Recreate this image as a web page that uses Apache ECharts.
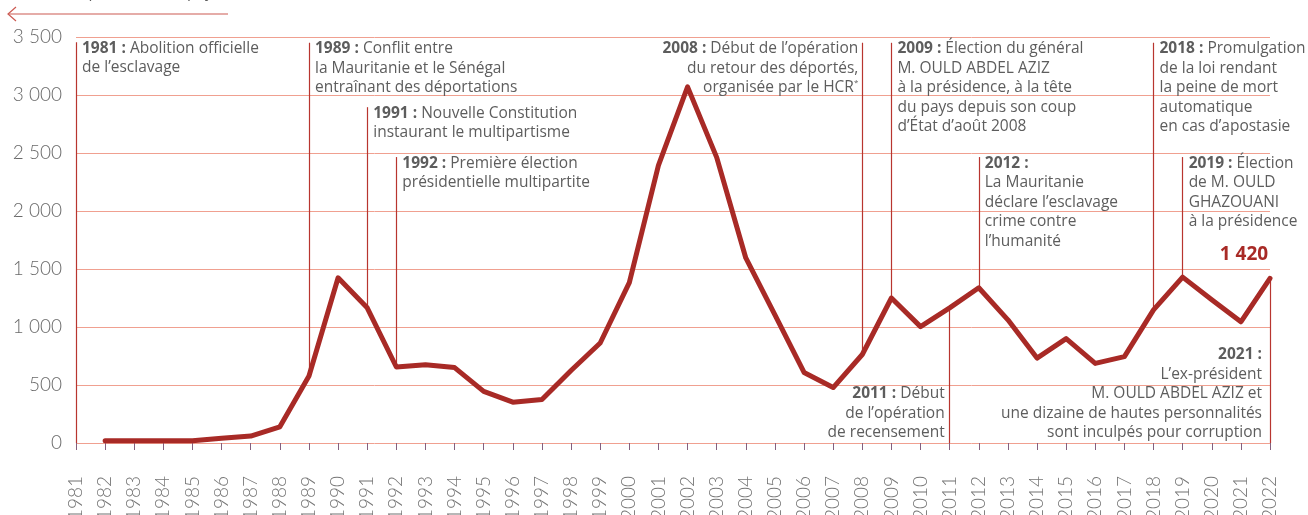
<!DOCTYPE html>
<html>
<head>
<meta charset="utf-8">
<script src="https://cdn.jsdelivr.net/npm/echarts@6/dist/echarts.min.js"></script>
<style>
    html, body { margin: 0; padding: 0; background: #fff; }
    #chart { width: 1308px; height: 515px; }
</style>
</head>
<body>
<div id="chart"></div>
<script>
    // années (axe des x)
    var years = ['1981','1982','1983','1984','1985','1986','1987','1988','1989','1990',
        '1991','1992','1993','1994','1995','1996','1997','1998','1999','2000',
        '2001','2002','2003','2004','2005','2006','2007','2008','2009','2010',
        '2011','2012','2013','2014','2015','2016','2017','2018','2019','2020',
        '2021','2022'];
    // valeurs (pas de donnée en 1981)
    var values = [null, 20, 20, 20, 20, 40, 60, 140, 578, 1424,
        1165, 655, 675, 650, 445, 352, 375, 625, 862, 1383,
        2393, 3070, 2462, 1595, 1105, 608, 478, 763, 1250, 1003,
        1165, 1338, 1062, 732, 900, 686, 745, 1148, 1430, 1235,
        1045, 1420];
    var yTicks = [0, 500, 1000, 1500, 2000, 2500, 3000, 3500];

    // repères chronologiques
    var eventYears = ['1981', '1989', '1991', '1992', '2008', '2009', '2012', '2018', '2019', '2011', '2022'];
    var eventTops  = [3455, 3450, 2895, 2465, 3450, 3450, 2465, 3450, 2465, null, null];
    var eventTexts = [
        '{b|1981 :} Abolition officielle\nde l\u2019esclavage',
        '{b|1989 :} Conflit entre\nla Mauritanie et le Sénégal\nentraînant des déportations',
        '{b|1991 :} Nouvelle Constitution\ninstaurant le multipartisme',
        '{b|1992 :} Première élection\nprésidentielle multipartite',
        '{b|2008 :} Début de l\u2019opération\ndu retour des déportés,\norganisée par le HCR{s|*}',
        '{b|2009 :} Élection du général\nM. OULD ABDEL AZIZ\nà la présidence, à la tête\ndu pays depuis son coup\nd\u2019État d\u2019août 2008',
        '{b|2012 :}\nLa Mauritanie\ndéclare l\u2019esclavage\ncrime contre\nl\u2019humanité',
        '{b|2018 :} Promulgation\nde la loi rendant\nla peine de mort\nautomatique\nen cas d\u2019apostasie',
        '{b|2019 :} Élection\nde M. OULD\nGHAZOUANI\nà la présidence',
        '{b|2011 :} Début\nde l\u2019opération\nde recensement',
        '{b|2021 :}\nL\u2019ex-président\nM. OULD ABDEL AZIZ et\nune dizaine de hautes personnalités\nsont inculpés pour corruption'
    ];
    var eventAlign = ['left','left','left','left','right','left','left','left','left','right','right'];

    var lastLabel = '1 420';

    var lineColor = '#a82a26';
    var markColor = '#b8352f';
    var gridColor = '#f0a090';
    var textColor = '#5d5d5d';
    var fontFam = '"Open Sans", Lato, sans-serif';
    var axisFont = 'Lato, "Open Sans", sans-serif';
    var fs = 15.5;

    function fmt(v) {
        return String(v).replace(/\B(?=(\d{3})+(?!\d))/g, ' ');
    }

    var markData = [];
    for (var i = 0; i < eventYears.length; i++) {
        var idx = years.indexOf(eventYears[i]);
        var v = values[idx] == null ? 0 : values[idx];
        if (eventTops[i] != null) {
            markData.push([{coord: [eventYears[i], eventTops[i]]}, {coord: [eventYears[i], v]}]);
        } else {
            markData.push([{coord: [eventYears[i], v]}, {coord: [eventYears[i], 0]}]);
        }
    }

    var myChart = echarts.init(document.getElementById('chart'));
    var option = {
        animation: false,
        grid: { left: 76, right: 38, top: 37, bottom: 72, outerBoundsMode: 'none', containLabel: false },
        xAxis: {
            type: 'category',
            data: years,
            boundaryGap: false,
            offset: 8,
            axisLine: { show: false },
            axisTick: { show: true, length: 7, alignWithLabel: true, lineStyle: { color: '#84607e', width: 1 } },
            axisLabel: {
                rotate: 90, margin: 25, interval: 0,
                color: '#767676', fontSize: 19, fontFamily: axisFont, fontWeight: 300
            },
            splitLine: { show: false }
        },
        yAxis: {
            type: 'value',
            min: 0, max: 3500, interval: 500,
            axisLine: { show: false },
            axisTick: { show: false },
            axisLabel: {
                margin: 14, color: '#6a6a6a', fontSize: 19, fontFamily: axisFont, fontWeight: 300,
                formatter: function (v) { return fmt(v); }
            },
            splitLine: { show: true, lineStyle: { color: gridColor, width: 1 } }
        },
        series: [{
            type: 'line',
            data: values,
            symbol: 'none',
            connectNulls: false,
            lineStyle: { color: lineColor, width: 5, cap: 'round', join: 'round' },
            z: 5,
            markLine: {
                silent: true,
                symbol: ['none', 'none'],
                label: { show: false },
                lineStyle: { color: markColor, width: 1.2, type: 'solid' },
                emphasis: { disabled: true },
                data: markData,
                z: 3
            }
        }]
    };
    myChart.setOption(option);

    // textes des repères, placés à partir des coordonnées des lignes
    var rich = {
        b: { fontWeight: 'bold', color: '#484848', fontSize: fs, fontFamily: fontFam, lineHeight: 19.5 },
        s: { fontSize: 8, color: textColor, verticalAlign: 'top', lineHeight: 19.5, fontFamily: fontFam }
    };
    var graphics = [];
    for (var j = 0; j < eventYears.length; j++) {
        var idx2 = years.indexOf(eventYears[j]);
        var p;
        var st = {
            text: eventTexts[j], rich: rich, fill: textColor,
            fontSize: fs, fontFamily: fontFam, lineHeight: 19.5,
            textAlign: eventAlign[j]
        };
        if (eventTops[j] != null) {
            p = myChart.convertToPixel({gridIndex: 0}, [idx2, eventTops[j]]);
            st.x = p[0] + (eventAlign[j] == 'left' ? 6 : -4);
            st.y = p[1] - 3.5;
            st.textVerticalAlign = 'top';
        } else {
            p = myChart.convertToPixel({gridIndex: 0}, [idx2, 0]);
            st.x = p[0] + (eventYears[j] == '2022' ? -8 : -5);
            st.y = p[1] - 0.5;
            st.textVerticalAlign = 'bottom';
        }
        graphics.push({ type: 'text', z: 10, style: st });
    }
    // valeur finale
    var pl = myChart.convertToPixel({gridIndex: 0}, [years.length - 1, values[values.length - 1]]);
    graphics.push({
        type: 'text', z: 10,
        style: {
            text: lastLabel, x: pl[0] - 26, y: pl[1] - 24, textAlign: 'center', textVerticalAlign: 'middle',
            fill: lineColor, fontSize: 19, fontWeight: 'bold', fontFamily: fontFam
        }
    });
    // indépendance (hors champ, en haut à gauche)
    graphics.push({
        type: 'text', z: 10,
        style: {
            text: '{b|1960 :} indépendance du pays', rich: rich, x: 9, y: -7,
            textVerticalAlign: 'middle', fill: textColor, fontSize: fs, fontFamily: fontFam
        }
    });
    graphics.push({ type: 'line', shape: { x1: 8, y1: 14, x2: 228, y2: 14 }, style: { stroke: '#cc5a52', lineWidth: 1.2 } });
    graphics.push({ type: 'polyline', shape: { points: [[16, 7], [8, 14], [16, 21]] }, style: { stroke: '#cc5a52', lineWidth: 1.2, fill: null } });

    myChart.setOption({ graphic: graphics });
</script>
</body>
</html>
